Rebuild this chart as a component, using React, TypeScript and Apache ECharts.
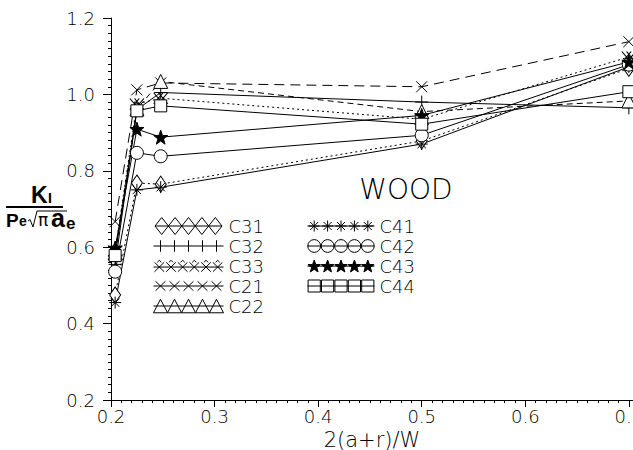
import React, { useEffect, useRef } from "react";
import * as echarts from "echarts";

// ---- data ----
const X = [0.204, 0.225, 0.248, 0.5, 0.7];
const C31 = [0.475, 0.768, 0.765, 0.878, 1.068];
const C32 = [0.555, 0.96, 1.005, 0.98, 0.965];
const C33 = [0.59, 0.975, 0.99, 0.935, 1.098];
const C21 = [0.667, 1.012, 1.03, 1.02, 1.138];
const C22 = [0.585, 0.962, 1.034, 0.955, 0.983];
const C41 = [0.455, 0.75, 0.757, 0.87, 1.072];
const C42 = [0.536, 0.847, 0.838, 0.893, 1.078];
const C43 = [0.598, 0.909, 0.888, 0.945, 1.085];
const C44 = [0.578, 0.957, 0.97, 0.922, 1.007];
const LEGEND_LEFT = ["C31", "C32", "C33", "C21", "C22"];
const LEGEND_RIGHT = ["C41", "C42", "C43", "C44"];

const FONT = '"DejaVu Sans"';

// ---- symbol shapes ----
const SYM = {
  plus: "path://M5 0L5 10M0 5L10 5",
  cross: "path://M0 0L10 10M10 0L0 10",
  dcross: "path://M0 0L8 10M8 0L0 10M4 0L12 10M12 0L4 10",
  aster: "path://M5 0L5 10M0 5L10 5M1.5 1.5L8.5 8.5M8.5 1.5L1.5 8.5",
  star:
    "path://M10 0L12.351 6.764L19.511 6.91L13.804 11.236L15.878 18.09L10 14L4.122 18.09L6.196 11.236L0.489 6.91L7.649 6.764Z",
};

const W = 67;
const H = 17;
function rep(fn: (ox: number, p: number) => string, n = 5): string {
  const p = W / n;
  let s = `M0 8.5L${W} 8.5`;
  for (let i = 0; i < n; i++) s += fn(i * p, p);
  return "path://" + s;
}
const f = (v: number) => v.toFixed(2);
const ICON: Record<string, string> = {
  C31: rep((o, p) => `M${f(o + p / 2)} 0L${f(o + p)} 8.5L${f(o + p / 2)} 17L${f(o)} 8.5Z`),
  C32: rep((o, p) => `M${f(o + p / 2)} 3L${f(o + p / 2)} 14`),
  C33: rep((o, p) => `M${f(o + 1)} 4L${f(o + p - 1)} 13M${f(o + p - 1)} 4L${f(o + 1)} 13M${f(o + p / 2 - 2)} 4L${f(o + p / 2)} 2L${f(o + p / 2 + 2)} 4`, 6),
  C21: rep((o, p) => `M${f(o + 2)} 4L${f(o + p - 2)} 13M${f(o + p - 2)} 4L${f(o + 2)} 13`),
  C22: rep((o, p) => `M${f(o + p / 2)} 2L${f(o + p)} 15L${f(o)} 15Z`),
  C41: rep((o, p) => {
    const c = o + p / 2;
    return `M${f(c)} 3L${f(c)} 14M${f(c - 5.5)} 8.5L${f(c + 5.5)} 8.5M${f(c - 4)} 4.5L${f(c + 4)} 12.5M${f(c + 4)} 4.5L${f(c - 4)} 12.5`;
  }),
  C42: rep((o, p) => {
    const r = p / 2 - 0.3;
    const c = o + p / 2;
    return `M${f(c - r)} 8.5A${f(r)} ${f(r)} 0 1 0 ${f(c + r)} 8.5A${f(r)} ${f(r)} 0 1 0 ${f(c - r)} 8.5Z`;
  }),
  C43: rep((o, p) => {
    const c = o + p / 2;
    const pts: string[] = [];
    for (let k = 0; k < 10; k++) {
      const a = -Math.PI / 2 + (k * Math.PI) / 5;
      const r = k % 2 === 0 ? 6.6 : 2.7;
      pts.push(`${f(c + r * Math.cos(a))} ${f(9 + r * Math.sin(a))}`);
    }
    return "M" + pts.join("L") + "Z";
  }),
  C44: rep((o, p) => `M${f(o + 0.6)} 2.5L${f(o + p - 0.6)} 2.5L${f(o + p - 0.6)} 14.5L${f(o + 0.6)} 14.5Z`),
};

const hollow = { color: "#fff", borderColor: "#000", borderWidth: 1 };
const solidFill = { color: "#000", borderColor: "#000", borderWidth: 1 };

function mk(
  name: string,
  ys: number[],
  symbol: string,
  size: number | number[],
  filled: boolean,
  lineType: any
) {
  return {
    name,
    type: "line",
    data: X.map((x, i) => [x, ys[i]]),
    symbol,
    symbolSize: size,
    itemStyle: filled ? solidFill : hollow,
    lineStyle: { color: "#000", width: 1, type: lineType },
    emphasis: { disabled: true },
  };
}

function legendData(names: string[]) {
  return names.map((n) => ({
    name: n,
    icon: ICON[n],
    itemStyle: n === "C43" ? solidFill : hollow,
  }));
}

export default function App() {
  const ref = useRef<HTMLDivElement>(null);
  useEffect(() => {
    if (!ref.current) return;
    const chart = echarts.init(ref.current, null, { renderer: "svg" });
    const labelStyle = { fontFamily: FONT, fontWeight: 200, fontSize: 18, color: "#000" };
    const legendCommon = {
      orient: "vertical",
      padding: 0,
      itemWidth: 70,
      itemHeight: H,
      itemGap: 2,
      symbolKeepAspect: true,
      selectedMode: false,
      textStyle: { fontFamily: FONT, fontWeight: 200, fontSize: 18, color: "#000", lineHeight: 17 },
    };
    chart.setOption({
      animation: false,
      backgroundColor: "#fff",
      grid: { left: 111, right: 0, top: 18, bottom: 50, outerBoundsMode: "none", containLabel: false },
      xAxis: {
        type: "value",
        min: 0.2,
        max: 0.704,
        interval: 0.1,
        splitLine: { show: false },
        axisLine: { lineStyle: { color: "#000", width: 1 } },
        axisTick: { length: 7, lineStyle: { color: "#000" } },
        minorTick: { show: true, splitNumber: 10, length: 3, lineStyle: { color: "#000" } },
        axisLabel: { ...labelStyle, margin: 7, formatter: (v: number) => v.toFixed(1) },
        name: "2(a+r)/W",
        nameLocation: "middle",
        nameGap: 25,
        nameTextStyle: { fontFamily: FONT, fontWeight: 200, fontSize: 21, color: "#000" },
      },
      yAxis: {
        type: "value",
        min: 0.2,
        max: 1.2,
        interval: 0.2,
        splitLine: { show: false },
        axisLine: { show: true, lineStyle: { color: "#000", width: 1 } },
        axisTick: { show: true, length: 8, lineStyle: { color: "#000" } },
        minorTick: { show: true, splitNumber: 10, length: 3, lineStyle: { color: "#000" } },
        axisLabel: { ...labelStyle, margin: 16, formatter: (v: number) => v.toFixed(1) },
      },
      legend: [
        { ...legendCommon, left: 153, top: 217, data: legendData(LEGEND_LEFT) },
        { ...legendCommon, left: 307, top: 217, itemWidth: 67, data: legendData(LEGEND_RIGHT) },
      ],
      graphic: [
        { type: "text", x: 406, y: 189, style: { text: "WOOD", font: `200 28px ${FONT}`, fill: "#000", align: "center", verticalAlign: "middle" } },
        { type: "text", x: 31, y: 183, style: { text: "K", font: 'bold 23px "Liberation Sans"', fill: "#000", verticalAlign: "top" } },
        { type: "text", x: 48, y: 191, style: { text: "I", font: 'bold 14px "Liberation Sans"', fill: "#000", verticalAlign: "top" } },
        { type: "line", shape: { x1: 6, y1: 207, x2: 63, y2: 207 }, style: { stroke: "#000", lineWidth: 2 } },
        { type: "text", x: 6, y: 211, style: { text: "P", font: 'bold 19px "Liberation Sans"', fill: "#000", verticalAlign: "top" } },
        { type: "text", x: 19, y: 214, style: { text: "e", font: 'bold 14px "Liberation Sans"', fill: "#000", verticalAlign: "top" } },
        { type: "polyline", shape: { points: [[28, 221], [30, 219.5], [33, 227], [37, 211], [67, 211]] }, style: { stroke: "#000", lineWidth: 1, fill: null } },
        { type: "text", x: 38, y: 211, style: { text: "π", font: '17px "DejaVu Sans"', fill: "#000", verticalAlign: "top" } },
        { type: "text", x: 51, y: 205, style: { text: "a", font: 'bold 25px "Liberation Sans"', fill: "#000", verticalAlign: "top" } },
        { type: "text", x: 66, y: 215, style: { text: "e", font: 'bold 17px "Liberation Sans"', fill: "#000", verticalAlign: "top" } },
      ],
      series: [
        mk("C31", C31, "diamond", [11, 16], false, [2, 3]),
        mk("C32", C32, SYM.plus, 13, false, "solid"),
        mk("C33", C33, SYM.dcross, [14, 11], false, [2, 3]),
        mk("C21", C21, SYM.cross, 11, false, [10, 6]),
        mk("C22", C22, "triangle", 14, false, [6, 4]),
        mk("C41", C41, SYM.aster, 12, false, "solid"),
        mk("C42", C42, "circle", 13, false, "solid"),
        mk("C43", C43, SYM.star, 14, true, "solid"),
        mk("C44", C44, "rect", 12, false, "solid"),
      ],
    });
    return () => chart.dispose();
  }, []);
  return (
    <div
      ref={ref}
      style={{ position: "fixed", left: 0, top: 0, width: 633, height: 450, background: "#fff" }}
    />
  );
}
